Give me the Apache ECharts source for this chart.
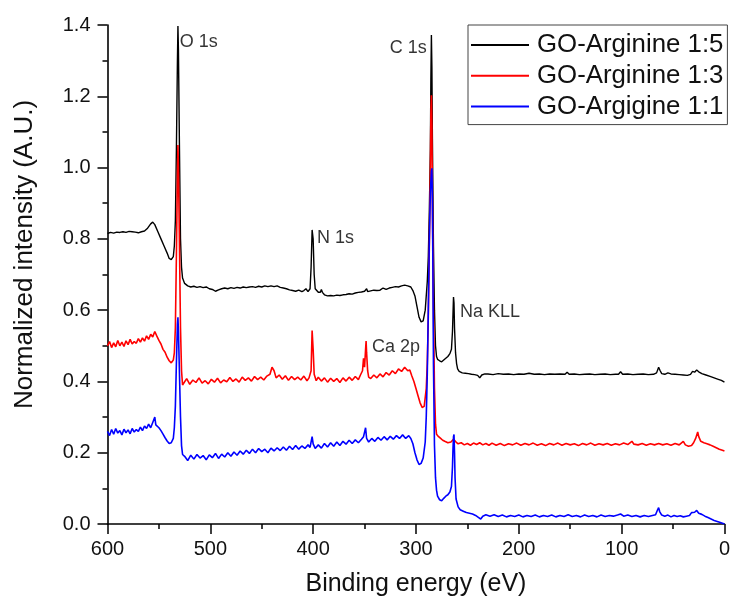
<!DOCTYPE html>
<html>
<head>
<meta charset="utf-8">
<script src="https://cdn.jsdelivr.net/npm/echarts@6/dist/echarts.min.js"></script>
<style>
html,body{margin:0;padding:0;background:#fff;}
#chart{width:733px;height:602px;}
</style>
</head>
<body>
<div id="chart"></div>
<script>
// Binding energy (eV) vs normalized intensity
const seriesNames = ['GO-Arginine 1:5', 'GO-Arginine 1:3', 'GO-Argigine 1:1'];
const seriesColors = ['#000000', '#ff0000', '#0000ff'];

const black15 = [
[600,0.815],[597,0.818],[594,0.816],[591,0.819],[588,0.818],[585,0.82],[582,0.818],[579,0.821],[576,0.82],[573,0.819],
[570,0.817],[567,0.82],[564,0.822],[561,0.83],[558,0.842],[556,0.847],[554,0.84],[551,0.82],[548,0.8],[545,0.78],
[542,0.76],[540,0.745],[538,0.742],[536,0.75],[535,0.78],[534,0.85],[533,1.05],[532,1.3],[531.5,1.397],[531,1.33],
[530,1.05],[529,0.8],[528,0.72],[527,0.69],[525,0.675],[522,0.668],[519,0.665],[516,0.667],[513,0.664],[510,0.666],
[507,0.663],[504,0.665],[501,0.66],[498,0.658],[495,0.653],[492,0.657],[489,0.66],[486,0.662],[483,0.66],[480,0.663],
[477,0.661],[474,0.664],[471,0.662],[468,0.665],[465,0.663],[462,0.665],[459,0.666],[456,0.664],[453,0.667],[450,0.665],
[447,0.668],[444,0.666],[441,0.668],[438,0.666],[435,0.668],[432,0.664],[429,0.662],[426,0.66],[423,0.657],[420,0.655],
[417,0.653],[414,0.656],[411,0.652],[409,0.655],[407,0.66],[405,0.652],[403,0.66],[402,0.72],[401,0.825],[400,0.8],
[399,0.7],[398,0.66],[397,0.655],[395,0.65],[394,0.645],[393,0.65],[392,0.658],[391,0.65],[389,0.643],[386,0.64],
[383,0.641],[380,0.64],[377,0.642],[374,0.641],[371,0.643],[368,0.644],[365,0.646],[362,0.645],[359,0.648],[356,0.65],
[353,0.651],[350,0.653],[348,0.66],[347,0.652],[344,0.654],[341,0.656],[338,0.655],[335,0.656],[332,0.662],[329,0.658],
[326,0.662],[323,0.664],[320,0.666],[317,0.665],[314,0.668],[311,0.67],[308,0.668],[305,0.665],[303,0.655],[301,0.64],
[299,0.61],[297,0.58],[295,0.567],[293,0.57],[291,0.6],[289,0.68],[288,0.75],[287,0.88],[286,1.05],[285.5,1.25],
[285,1.372],[284.5,1.28],[284,1.08],[283,0.78],[282,0.6],[281,0.5],[280,0.47],[279,0.462],[277,0.458],[275,0.455],
[273,0.46],[271,0.465],[269,0.47],[267,0.478],[265.5,0.49],[264.5,0.54],[263.5,0.637],[263,0.62],[262.5,0.55],[261.5,0.48],
[260.5,0.45],[259.5,0.435],[258,0.428],[255,0.424],[252,0.423],[249,0.422],[246,0.42],[243,0.419],[240,0.417],[238,0.41],
[236,0.418],[233,0.421],[230,0.421],[225,0.419],[220,0.422],[215,0.42],[210,0.421],[205,0.419],[200,0.421],[195,0.42],
[190,0.423],[185,0.42],[180,0.421],[175,0.419],[170,0.421],[165,0.42],[160,0.421],[155,0.42],[153,0.426],[151,0.42],
[146,0.421],[141,0.419],[136,0.42],[131,0.421],[126,0.419],[121,0.42],[116,0.421],[111,0.419],[106,0.42],[103,0.42],
[101,0.427],[99,0.42],[94,0.421],[89,0.419],[84,0.42],[79,0.421],[74,0.419],[69,0.42],[66,0.424],[64,0.44],
[62.5,0.43],[61,0.422],[58,0.42],[55,0.424],[52,0.421],[48,0.42],[44,0.419],[40,0.418],[36,0.417],[33,0.42],
[31,0.428],[29,0.426],[27,0.432],[25,0.427],[22,0.422],[18,0.418],[14,0.414],[10,0.41],[6,0.406],[3,0.403],[0,0.398]
];

const red13 = [
[600,0.5],[598,0.512],[596,0.495],[594,0.508],[592,0.497],[590,0.515],[588,0.5],[586,0.51],[584,0.498],[582,0.514],
[580,0.503],[578,0.518],[576,0.505],[574,0.512],[572,0.507],[570,0.52],[568,0.51],[566,0.522],[564,0.513],[562,0.528],
[560,0.518],[558,0.532],[556,0.525],[554,0.54],[552,0.527],[550,0.515],[548,0.505],[546,0.49],[544,0.482],[542,0.468],
[540,0.458],[538,0.452],[536,0.46],[535,0.48],[534,0.55],[533,0.75],[532,0.98],[531.5,1.063],[531,1.0],[530,0.78],
[529,0.55],[528,0.43],[527,0.39],[526,0.395],[523,0.408],[520,0.392],[517,0.404],[514,0.397],[511,0.41],[508,0.395],
[505,0.402],[502,0.393],[499,0.406],[496,0.398],[493,0.409],[490,0.396],[487,0.404],[484,0.399],[481,0.411],[478,0.4],
[475,0.407],[472,0.398],[469,0.412],[466,0.403],[463,0.41],[460,0.401],[457,0.414],[454,0.405],[451,0.412],[448,0.404],
[445,0.415],[442,0.42],[440,0.44],[438,0.43],[436,0.41],[433,0.418],[430,0.406],[427,0.416],[424,0.403],[421,0.414],
[418,0.405],[415,0.412],[412,0.404],[409,0.415],[406,0.402],[404,0.41],[402,0.43],[401,0.543],[400,0.49],[399,0.42],
[397,0.402],[395,0.412],[392,0.401],[389,0.41],[386,0.398],[383,0.409],[380,0.4],[377,0.408],[374,0.397],[371,0.41],
[368,0.401],[365,0.412],[362,0.403],[359,0.414],[356,0.405],[354,0.418],[352,0.43],[351,0.465],[350,0.44],[349,0.49],
[348.5,0.513],[348,0.48],[347,0.43],[346,0.412],[344,0.408],[341,0.418],[338,0.41],[335,0.421],[332,0.413],[329,0.425],
[326,0.418],[323,0.43],[320,0.422],[317,0.435],[314,0.428],[311,0.44],[308,0.43],[306,0.432],[304,0.415],[302,0.4],
[300,0.38],[298,0.36],[296,0.34],[294,0.327],[292,0.33],[290,0.38],[289,0.45],[288,0.58],[287,0.78],[286,1.0],
[285.5,1.15],[285,1.203],[284.5,1.12],[284,0.9],[283,0.6],[282,0.38],[281,0.28],[280,0.252],[278,0.245],[276,0.24],
[274,0.235],[272,0.232],[269,0.228],[266,0.23],[263.5,0.238],[261,0.23],[259,0.225],[256,0.228],[253,0.222],[250,0.226],
[247,0.221],[244,0.227],[241,0.223],[238,0.228],[235,0.222],[232,0.226],[229,0.221],[226,0.227],[222,0.221],[218,0.226],
[214,0.22],[210,0.225],[206,0.222],[202,0.227],[198,0.221],[194,0.226],[190,0.222],[186,0.227],[182,0.221],[178,0.225],
[174,0.22],[170,0.226],[166,0.222],[162,0.227],[158,0.221],[154,0.226],[150,0.222],[146,0.225],[142,0.22],[138,0.226],
[134,0.222],[130,0.227],[126,0.221],[122,0.225],[118,0.222],[114,0.226],[110,0.221],[106,0.225],[102,0.222],[98,0.227],
[94,0.223],[90,0.232],[88,0.224],[84,0.222],[80,0.226],[76,0.221],[72,0.225],[68,0.222],[64,0.226],[60,0.222],
[56,0.225],[52,0.221],[48,0.226],[44,0.222],[40,0.232],[38,0.222],[35,0.218],[32,0.22],[30,0.228],[28,0.24],
[26,0.258],[25,0.245],[23,0.232],[20,0.228],[17,0.225],[14,0.222],[11,0.218],[8,0.214],[5,0.21],[2,0.207],[0,0.205]
];

const blue11 = [
[600,0.26],[598,0.248],[596,0.265],[594,0.252],[592,0.268],[590,0.255],[588,0.262],[586,0.25],[584,0.266],[582,0.256],
[580,0.264],[578,0.253],[576,0.268],[574,0.258],[572,0.265],[570,0.26],[568,0.272],[566,0.262],[564,0.275],[562,0.268],
[560,0.28],[558,0.27],[556,0.285],[554,0.3],[553,0.278],[550,0.27],[548,0.262],[546,0.252],[544,0.242],[542,0.233],
[540,0.226],[538,0.228],[536,0.24],[535,0.27],[534,0.33],[533,0.45],[532,0.56],[531.5,0.58],[531,0.54],[530,0.42],
[529,0.3],[528,0.22],[527,0.195],[525,0.19],[522,0.178],[519,0.193],[516,0.182],[513,0.195],[510,0.185],[507,0.192],
[504,0.18],[501,0.194],[498,0.186],[495,0.198],[492,0.184],[489,0.196],[486,0.188],[483,0.2],[480,0.19],[477,0.202],
[474,0.193],[471,0.205],[468,0.196],[465,0.207],[462,0.198],[459,0.21],[456,0.2],[453,0.212],[450,0.203],[447,0.21],
[444,0.2],[441,0.213],[438,0.205],[435,0.214],[432,0.206],[429,0.216],[426,0.207],[423,0.218],[420,0.209],[417,0.22],
[414,0.21],[411,0.219],[408,0.212],[405,0.222],[403,0.215],[401,0.245],[400,0.225],[398,0.212],[395,0.222],[392,0.213],
[389,0.226],[386,0.216],[383,0.228],[380,0.218],[377,0.23],[374,0.22],[371,0.232],[368,0.224],[365,0.235],[362,0.226],
[359,0.236],[356,0.228],[353,0.238],[351,0.245],[349,0.27],[348,0.24],[346,0.23],[343,0.24],[340,0.232],[337,0.243],
[334,0.235],[331,0.245],[328,0.236],[325,0.246],[322,0.238],[319,0.248],[316,0.24],[313,0.25],[310,0.24],[307,0.248],
[305,0.24],[303,0.225],[301,0.2],[299,0.18],[297,0.167],[295,0.17],[293,0.185],[291,0.23],[290,0.3],[289,0.42],
[288,0.6],[287,0.8],[286,0.93],[285,0.99],[284.5,0.998],[284,0.9],[283.5,0.7],[283,0.45],[282,0.22],[281,0.13],
[280,0.095],[279,0.078],[277,0.068],[275,0.065],[273,0.072],[271,0.078],[269,0.082],[267,0.09],[265.5,0.105],[264.5,0.16],
[264,0.21],[263.5,0.245],[263,0.251],[262.5,0.2],[262,0.13],[261,0.07],[259,0.048],[257,0.04],[254,0.036],[251,0.032],
[248,0.03],[245,0.028],[242,0.024],[239,0.018],[237,0.014],[235,0.022],[232,0.026],[228,0.022],[224,0.026],[220,0.021],
[216,0.025],[212,0.02],[208,0.024],[204,0.021],[200,0.025],[196,0.02],[192,0.024],[188,0.021],[184,0.025],[180,0.02],
[176,0.024],[172,0.021],[168,0.025],[164,0.02],[160,0.024],[156,0.021],[152,0.026],[148,0.021],[144,0.024],[140,0.02],
[136,0.025],[132,0.021],[128,0.024],[124,0.02],[120,0.025],[116,0.021],[112,0.024],[108,0.022],[104,0.025],[101,0.028],
[98,0.022],[94,0.025],[90,0.021],[86,0.024],[82,0.02],[78,0.024],[74,0.021],[70,0.024],[67,0.026],[65,0.04],
[64,0.046],[63,0.035],[61,0.025],[58,0.022],[55,0.025],[52,0.02],[49,0.024],[46,0.021],[43,0.023],[40,0.02],
[37,0.022],[34,0.024],[32,0.032],[31,0.028],[29,0.033],[27,0.038],[25,0.03],[22,0.027],[19,0.022],[16,0.018],
[13,0.014],[10,0.01],[7,0.007],[4,0.004],[0,0.0]
];

// peak annotations: [energy, intensity, text, side]
const peakLabels = [
[529.8, 1.353, 'O 1s', 'right'],
[396.3, 0.803, 'N 1s', 'right'],
[289.5, 1.334, 'C 1s', 'left'],
[257.2, 0.594, 'Na KLL', 'right'],
[342.8, 0.496, 'Ca 2p', 'right']
];

const xRange = [0, 600, 100];
const yRange = [0, 1.4, 0.2];
const xTitle = 'Binding energy (eV)';
const yTitle = 'Normalized intensity (A.U.)';

const FONT = '"Liberation Sans", Arial, sans-serif';
const chart = echarts.init(document.getElementById('chart'), null, {renderer: 'canvas'});

const lineData = [black15, red13, blue11];
const series = lineData.map((d, i) => ({
  name: seriesNames[i],
  type: 'line',
  data: d,
  showSymbol: false,
  symbol: 'none',
  lineStyle: {color: seriesColors[i], width: i === 0 ? 1.4 : 1.6},
  itemStyle: {color: seriesColors[i]},
  z: 2 + i,
  animation: false
}));
series.push({
  type: 'scatter',
  symbolSize: 0,
  silent: true,
  z: 10,
  data: peakLabels.map(p => ({
    value: [p[0], p[1]],
    label: {show: true, formatter: p[2], position: p[3], distance: 0}
  })),
  label: {color: '#000', fontSize: 18, fontFamily: FONT},
  animation: false
});

chart.setOption({
  backgroundColor: '#ffffff',
  animation: false,
  grid: {left: 107.5, right: 5.5, top: 25, bottom: 77},
  legend: {
    data: seriesNames,
    orient: 'vertical',
    left: 468, top: 25,
    padding: [6, 4, 4, 3],
    itemGap: 2.8,
    itemWidth: 58,
    itemHeight: 2,
    icon: 'path://M0,0H58V2H0Z',
    borderColor: '#444',
    borderWidth: 1,
    backgroundColor: '#fff',
    textStyle: {fontSize: 25.8, color: '#111', fontFamily: FONT, lineHeight: 28, padding: [0, 0, 0, 3]}
  },
  xAxis: {
    type: 'value',
    inverse: true,
    min: xRange[0], max: xRange[1], interval: xRange[2],
    name: xTitle,
    nameLocation: 'middle',
    nameGap: 48,
    nameTextStyle: {fontSize: 25, color: '#111', fontFamily: FONT},
    axisLine: {show: true, onZero: false, lineStyle: {color: '#000', width: 1.6}},
    axisTick: {show: true, inside: false, length: 10, lineStyle: {color: '#000', width: 1.5}},
    minorTick: {show: true, splitNumber: 2, length: 5, lineStyle: {color: '#000', width: 1.5}},
    axisLabel: {fontSize: 20, color: '#111', fontFamily: FONT, margin: 15},
    splitLine: {show: false}
  },
  yAxis: {
    type: 'value',
    min: yRange[0], max: yRange[1], interval: yRange[2],
    name: yTitle,
    nameLocation: 'middle',
    nameGap: 70,
    nameRotate: 90,
    nameTextStyle: {fontSize: 26, color: '#111', fontFamily: FONT, padding: [0, 0, 0, 40]},
    axisLine: {show: true, onZero: false, lineStyle: {color: '#000', width: 1.6}},
    axisTick: {show: true, inside: false, length: 10, lineStyle: {color: '#000', width: 1.5}},
    minorTick: {show: true, splitNumber: 2, length: 5, lineStyle: {color: '#000', width: 1.5}},
    axisLabel: {fontSize: 20, color: '#111', fontFamily: FONT, margin: 17, formatter: v => v.toFixed(1)},
    splitLine: {show: false}
  },
  series: series
});
</script>
</body>
</html>
